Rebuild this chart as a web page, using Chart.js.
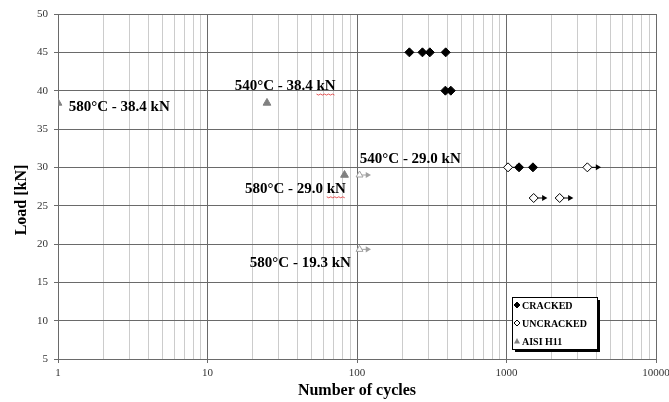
<!DOCTYPE html>
<html lang="en">
<head>
<meta charset="utf-8">
<title>Load vs number of cycles</title>
<script src="https://cdn.jsdelivr.net/npm/chart.js"></script>
<style>
  html, body { margin: 0; padding: 0; background: #fff; }
  #wrap { width: 669px; height: 402px; }
</style>
</head>
<body>
<div id="wrap"><canvas id="chart"></canvas></div>
<script>
// cracked specimens
const crackedCycles = [224, 274, 307, 392, 390, 424, 1213, 1503];
const crackedLoads  = [45, 45, 45, 45, 40, 40, 30, 30];
// uncracked run-outs
const uncrackedCycles = [1024, 3474, 1520, 2268];
const uncrackedLoads  = [30, 30, 26, 26];
// AISI H11 reference data
const h11Cycles = [1, 25, 82.5];
const h11Loads  = [38.4, 38.4, 29.0];
const h11RunoutCycles = [104, 104];
const h11RunoutLoads  = [29.0, 19.3];

const xDecades = [1, 10, 100, 1000, 10000];
const yTicks = [5, 10, 15, 20, 25, 30, 35, 40, 45, 50];

const noteTexts  = ['580°C - 38.4 kN', '540°C - 38.4 kN', '540°C - 29.0 kN', '580°C - 29.0 kN', '580°C - 19.3 kN'];
const noteCycles = [1.18, 15.2, 104.4, 17.8, 19.2];
const noteLoads  = [37.9, 40.6, 31.1, 27.2, 17.5];
const noteSquiggle = [false, true, false, true, false];

const SERIF = '"Liberation Serif", "Times New Roman", serif';
const isDecade = v => xDecades.some(d => Math.abs(d - v) < 1e-9);

function pts(xs, ys) { return xs.map((x, i) => ({ x: x, y: ys[i] })); }

// little arrows behind run-out markers
function arrows(xs, ys, factor, color) {
  return xs.map((x, i) => ({
    data: [{ x: x, y: ys[i] }, { x: x * factor, y: ys[i] }],
    showLine: true,
    borderColor: color,
    borderWidth: 1,
    pointStyle: 'triangle',
    pointRotation: 90,
    pointRadius: ctx => ctx.dataIndex === 1 ? 3.5 : 0,
    pointBackgroundColor: color,
    pointBorderColor: color,
    pointBorderWidth: 0
  }));
}

const datasets = [
  { label: 'CRACKED', data: pts(crackedCycles, crackedLoads), pointStyle: 'rectRot',
    pointRadius: 4.5, backgroundColor: '#000', borderColor: '#000', borderWidth: 1 },
  { label: 'UNCRACKED', data: pts(uncrackedCycles, uncrackedLoads), pointStyle: 'rectRot',
    pointRadius: 4.5, backgroundColor: '#fff', borderColor: '#000', borderWidth: 1 },
  { label: 'AISI H11', data: pts(h11Cycles, h11Loads), pointStyle: 'triangle',
    pointRadius: 4.5, backgroundColor: '#808080', borderColor: '#808080', borderWidth: 1 },
  { label: 'AISI H11 run-out', data: pts(h11RunoutCycles, h11RunoutLoads), pointStyle: 'triangle',
    pointRadius: 4, backgroundColor: '#fff', borderColor: '#a0a0a0', borderWidth: 1 }
].concat(arrows(uncrackedCycles, uncrackedLoads, 1.17, '#000'))
 .concat(arrows(h11RunoutCycles, h11RunoutLoads, 1.13, '#a0a0a0'));

// axis titles, notes and the boxed legend
const extras = {
  id: 'extras',
  afterDraw(chart) {
    const c = chart.ctx, a = chart.chartArea;
    const xs = chart.scales.x, ys = chart.scales.y;
    c.save();
    c.fillStyle = '#000';
    c.font = 'bold 16px ' + SERIF;
    c.textAlign = 'center';
    c.textBaseline = 'middle';
    c.fillText('Number of cycles', (a.left + a.right) / 2, 391);
    c.save();
    c.translate(22, 200);
    c.rotate(-Math.PI / 2);
    c.fillText('Load [kN]', 0, 0);
    c.restore();

    c.font = 'bold 15px ' + SERIF;
    c.textAlign = 'left';
    noteTexts.forEach((t, i) => {
      const px = xs.getPixelForValue(noteCycles[i]);
      const py = ys.getPixelForValue(noteLoads[i]);
      c.fillText(t, px, py);
      if (noteSquiggle[i]) {
        const w = c.measureText(t).width, kw = c.measureText('kN').width;
        c.strokeStyle = '#e03030';
        c.lineWidth = 0.8;
        c.beginPath();
        for (let k = 0; k <= kw; k += 2) {
          const yy = py + 8 + (k / 2 % 2 ? 1 : 0);
          k === 0 ? c.moveTo(px + w - kw + k, yy) : c.lineTo(px + w - kw + k, yy);
        }
        c.stroke();
      }
    });

    // legend box
    const bx = a.right - 144, by = a.bottom - 62, bw = 85, bh = 52;
    c.fillStyle = '#000';
    c.fillRect(bx + 3, by + 3, bw, bh);
    c.fillStyle = '#fff';
    c.fillRect(bx, by, bw, bh);
    c.strokeStyle = '#000';
    c.lineWidth = 1;
    c.strokeRect(bx + 0.5, by + 0.5, bw, bh);
    c.font = 'bold 10px ' + SERIF;
    c.textBaseline = 'middle';
    const rows = ['CRACKED', 'UNCRACKED', 'AISI H11'];
    rows.forEach((t, i) => {
      const mx = bx + 5, my = by + 8 + i * 18;
      c.beginPath();
      if (i < 2) {
        c.moveTo(mx, my - 3); c.lineTo(mx + 3, my); c.lineTo(mx, my + 3); c.lineTo(mx - 3, my); c.closePath();
        c.fillStyle = i === 0 ? '#000' : '#fff';
        c.fill();
        c.strokeStyle = '#000';
        c.stroke();
      } else {
        c.moveTo(mx, my - 3); c.lineTo(mx + 3, my + 2.5); c.lineTo(mx - 3, my + 2.5); c.closePath();
        c.fillStyle = '#808080';
        c.fill();
      }
      c.fillStyle = '#000';
      c.fillText(t, bx + 10, my + 1);
    });
    c.restore();
  }
};

new Chart(document.getElementById('chart'), {
  type: 'scatter',
  data: { datasets: datasets },
  options: {
    responsive: true,
    maintainAspectRatio: false,
    animation: false,
    layout: { padding: { top: 14, right: 13, left: 0, bottom: 0 } },
    plugins: { legend: { display: false }, tooltip: { enabled: false } },
    scales: {
      x: {
        type: 'logarithmic',
        min: 1, max: 10000,
        afterFit: s => { s.height = 43; s.paddingLeft = 0; s.paddingRight = 0; },
        afterBuildTicks: s => {
          const t = [];
          for (let d = 1; d < 10000; d *= 10) {
            for (let k = 1; k < 10; k++) t.push({ value: d * k, major: k === 1 });
          }
          t.push({ value: 10000, major: true });
          s.ticks = t;
        },
        ticks: {
          autoSkip: false, maxRotation: 0, padding: 4,
          color: '#333', font: { family: SERIF, size: 11 },
          callback: v => isDecade(v) ? String(v) : ''
        },
        grid: {
          color: ctx => ctx.tick && isDecade(ctx.tick.value) ? '#6a6a6a' : '#cccccc',
          tickColor: ctx => ctx.tick && isDecade(ctx.tick.value) ? '#6a6a6a' : 'rgba(0,0,0,0)',
          tickLength: 4
        },
        border: { color: '#6a6a6a' }
      },
      y: {
        min: 5, max: 50,
        afterFit: s => { s.width = 58; s.paddingTop = 0; s.paddingBottom = 0; },
        afterBuildTicks: s => { s.ticks = yTicks.map(v => ({ value: v })); },
        ticks: { padding: 6, color: '#333', font: { family: SERIF, size: 11 } },
        grid: { color: '#6a6a6a', tickColor: '#6a6a6a', tickLength: 4 },
        border: { color: '#6a6a6a' }
      }
    }
  },
  plugins: [extras]
});
</script>
</body>
</html>
